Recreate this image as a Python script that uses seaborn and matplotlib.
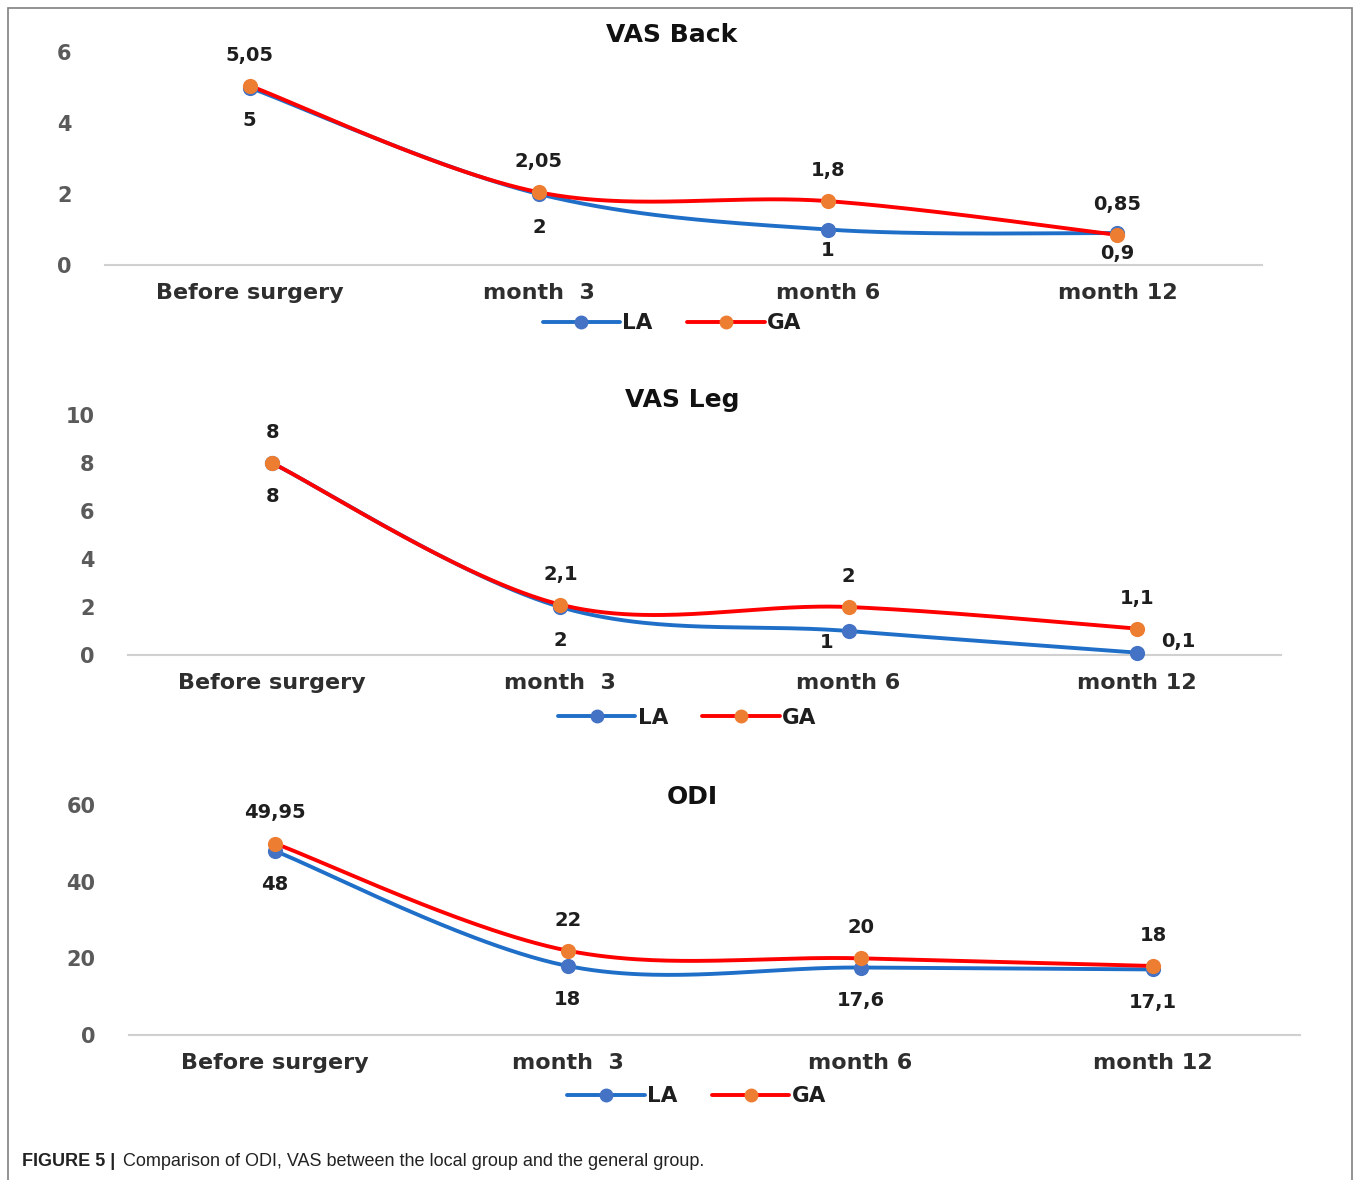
import numpy as np
import matplotlib.pyplot as plt
import seaborn as sns
from matplotlib.lines import Line2D
from matplotlib.patches import Rectangle

categories = ["Before surgery", "month  3", "month 6", "month 12"]

back_la = [5, 2, 1, 0.9]
back_ga = [5.05, 2.05, 1.8, 0.85]
leg_la = [8, 2, 1, 0.1]
leg_ga = [8, 2.1, 2, 1.1]
odi_la = [48, 18, 17.6, 17.1]
odi_ga = [49.95, 22, 20, 18]

sns.set_style("white")
plt.rcParams['font.family'] = ['DejaVu Sans']

LA_LINE, LA_MARK = "#1f6fc8", "#4472c4"
GA_LINE, GA_MARK = "#ff0000", "#ed7d31"


def smooth(y, n=60):
    # excel-like smoothed line through the points (bezier, tension 1/6)
    p = np.column_stack([np.arange(len(y), dtype=float), np.asarray(y, float)])
    p = np.vstack([p[0], p, p[-1]])
    t = np.linspace(0, 1, n)[:, None]
    out = []
    for i in range(1, len(p) - 2):
        p0, p1, p2, p3 = p[i - 1], p[i], p[i + 1], p[i + 2]
        c1 = p1 + (p2 - p0) / 6
        c2 = p2 - (p3 - p1) / 6
        b = (1 - t) ** 3 * p1 + 3 * (1 - t) ** 2 * t * c1 + 3 * (1 - t) * t ** 2 * c2 + t ** 3 * p2
        out.append(b)
    out = np.vstack(out)
    return out[:, 0], out[:, 1]


def fmt(v):
    return f"{v:g}".replace(".", ",")


# title, LA, GA, yticks, axes rect, LA label spots, GA label spots, ymax, title x/y, legend x
panels = [
    ("VAS Back", back_la, back_ga, [0, 2, 4, 6], [0.0772, 0.7754, 0.8507, 0.1805],
     ["below", "below", "near", "near"], ["above"] * 4, 6, (0.49, 1.08), 0.49),
    ("VAS Leg", leg_la, leg_ga, [0, 2, 4, 6, 8, 10], [0.0941, 0.4449, 0.8478, 0.2034],
     ["below", "below", "lowleft", "right"], ["above"] * 4, 10, (0.481, 1.0625), 0.485),
    ("ODI", odi_la, odi_ga, [0, 20, 40, 60], [0.0946, 0.1229, 0.8610, 0.1949],
     ["below"] * 4, ["above"] * 4, 60, (0.481, 1.035), 0.485),
]

offsets = {"above": (0, 22), "below": (0, -24), "near": (0, -15),
           "right": (30, 8), "lowleft": (-16, -8)}

fig = plt.figure(figsize=(13.6, 11.8), dpi=100)

for title, la, ga, yticks, rect, la_pos, ga_pos, ymax, tpos, lgx in panels:
    ax = fig.add_axes(rect)
    x = np.arange(len(categories))
    for vals, lc, mc, z in [(la, LA_LINE, LA_MARK, 2), (ga, GA_LINE, GA_MARK, 3)]:
        sx, sy = smooth(vals)
        ax.plot(sx, sy, color=lc, lw=2.8, zorder=z, solid_capstyle="round")
        sns.scatterplot(x=x, y=vals, ax=ax, color=mc, s=120, edgecolor=mc,
                        linewidth=0, zorder=z + 2, clip_on=False)
    for vals, pos in [(la, la_pos), (ga, ga_pos)]:
        for xi, v, p in zip(x, vals, pos):
            ax.annotate(fmt(v), (xi, v), xytext=offsets[p], textcoords="offset points",
                        ha="center", va="center", fontsize=14, fontweight="bold",
                        color="#1e1e1e")
    ax.set_xlim(-0.5, 3.5)
    ax.set_ylim(0, ymax)
    ax.set_yticks(yticks)
    ax.set_xticks(x)
    ax.set_xticklabels(categories, fontsize=16, color="#2e2e2e", fontweight="bold")
    for lab in ax.get_yticklabels():
        lab.set_fontweight("bold")
    ax.tick_params(axis="y", labelsize=15, labelcolor="#5a5a5a", length=0, pad=24)
    ax.tick_params(axis="x", length=0, pad=13)
    for s in ["top", "right", "left"]:
        ax.spines[s].set_visible(False)
    ax.spines["bottom"].set_color("#d0d0d0")
    ax.spines["bottom"].set_linewidth(1.5)
    ax.text(tpos[0], tpos[1], title, transform=ax.transAxes, ha="center", va="center",
            fontsize=18, fontweight="bold", color="#111111")
    handles = [
        Line2D([], [], color=LA_LINE, lw=2.8, marker="o", markersize=9,
               markerfacecolor=LA_MARK, markeredgecolor=LA_MARK),
        Line2D([], [], color=GA_LINE, lw=2.8, marker="o", markersize=9,
               markerfacecolor=GA_MARK, markeredgecolor=GA_MARK),
    ]
    leg = ax.legend(handles, ["LA", "GA"], loc="upper center", bbox_to_anchor=(lgx, -0.185),
                    ncol=2, frameon=False, handlelength=3.6, handletextpad=0.1,
                    columnspacing=1.6, borderaxespad=0,
                    prop={"size": 15.5, "weight": "bold"})
    for t in leg.get_texts():
        t.set_color("#1e1e1e")

fig.add_artist(Rectangle((8 / 1360, -0.1), 1344 / 1360, 1.1 - 8 / 1180,
                         transform=fig.transFigure, fill=False, edgecolor="#808080", lw=1.2))

fig.text(22 / 1360, 1 - 1162 / 1180, "FIGURE 5 |", fontsize=13, fontweight="bold",
         family=["Liberation Sans"], va="center", ha="left", color="#222222")
fig.text(123 / 1360, 1 - 1162 / 1180,
         "Comparison of ODI, VAS between the local group and the general group.",
         fontsize=13, family=["Liberation Sans"], va="center", ha="left", color="#222222")

fig.savefig("out.png", dpi=100)
